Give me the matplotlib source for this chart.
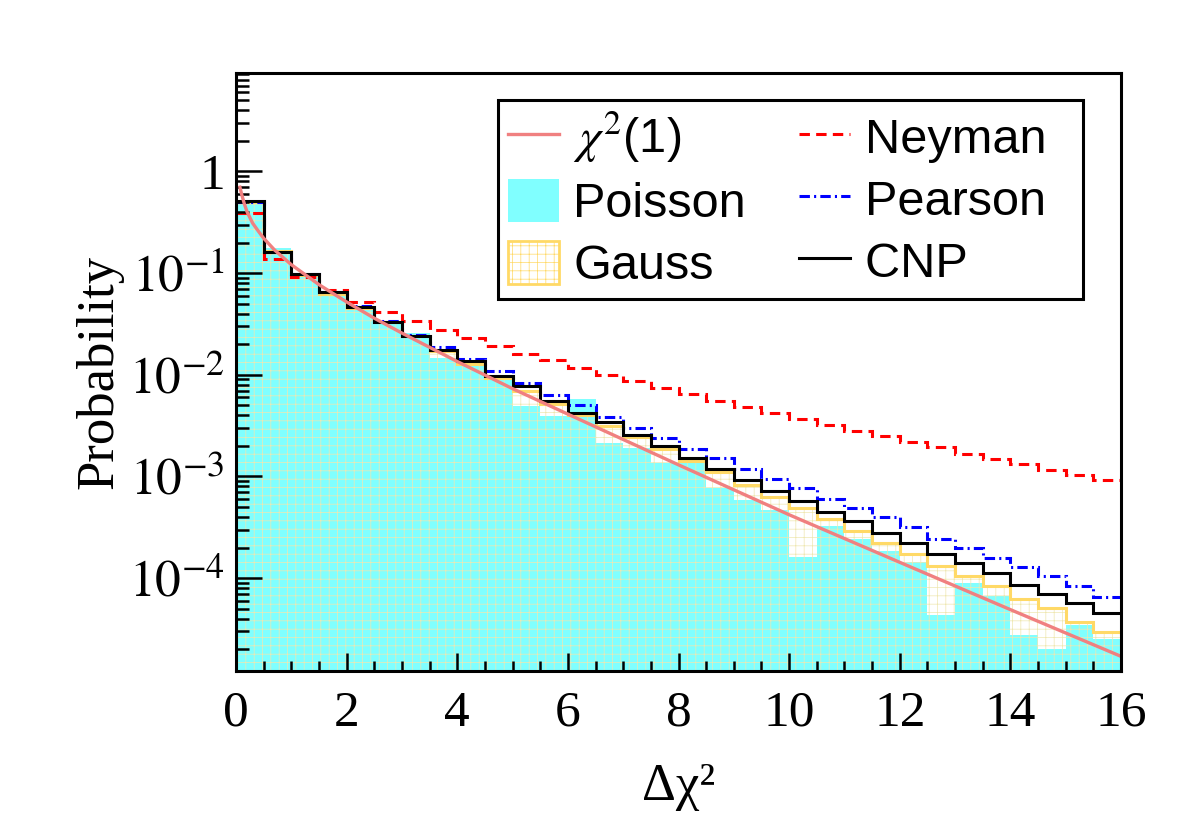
import numpy as np
import matplotlib
matplotlib.use("Agg")
import matplotlib.pyplot as plt
from matplotlib.patches import Patch
from matplotlib.lines import Line2D
from matplotlib.ticker import FixedLocator, FixedFormatter, LogLocator, NullFormatter, MultipleLocator

plt.rcParams['font.family'] = ['Liberation Serif', 'DejaVu Serif']
plt.rcParams['mathtext.fontset'] = 'stix'
plt.rcParams['lines.scale_dashes'] = False
plt.rcParams['hatch.linewidth'] = 0.5

# bin edges of delta chi2 (0.5 wide bins)
edges = np.arange(0, 16.01, 0.5)

# per-bin probabilities
poisson = [0.48, 0.175, 0.092, 0.06, 0.0443, 0.0322, 0.0258, 0.0146, 0.0126, 0.0091,
           0.0049, 0.00396, 0.00578, 0.00213, 0.0019, 0.00136, 0.00138, 0.00077, 0.00059, 0.000465,
           0.00016, 0.000323, 0.000243, 0.000184, 0.000143, 4.38e-5, 8.9e-5, 6.63e-5, 2.78e-5, 2.01e-5,
           3.48e-5, 2.52e-5]
gauss = [0.50, 0.165, 0.095, 0.062, 0.0455, 0.0330, 0.0240, 0.0170, 0.0128, 0.0093,
         0.0069, 0.0052, 0.0040, 0.00316, 0.00245, 0.00186, 0.00143, 0.0011, 0.00083, 0.000628,
         0.00049, 0.000382, 0.000289, 0.000222, 0.000173, 0.000131, 0.000104, 8.3e-5, 6.24e-5, 5.1e-5,
         3.67e-5, 2.93e-5]
neyman = [0.39, 0.138, 0.092, 0.0676, 0.052, 0.0414, 0.034, 0.0277, 0.023, 0.019,
          0.0161, 0.0139, 0.0117, 0.0100, 0.0086, 0.0074, 0.00645, 0.00556, 0.0048, 0.0042,
          0.00367, 0.00323, 0.00277, 0.0025, 0.00216, 0.00195, 0.00168, 0.00149, 0.00133, 0.00117,
          0.00104, 0.00093]
pearson = [0.50, 0.16, 0.097, 0.0646, 0.047, 0.034, 0.0249, 0.0188, 0.0143, 0.011,
           0.0083, 0.0063, 0.0050, 0.00385, 0.00297, 0.00239, 0.00186, 0.00152, 0.00118, 0.000944,
           0.00077, 0.000605, 0.00049, 0.0004, 0.000318, 0.000243, 0.000198, 0.000158, 0.000129, 0.000104,
           8.43e-5, 6.53e-5]
cnp = [0.507, 0.160, 0.098, 0.0646, 0.0465, 0.033, 0.0238, 0.0174, 0.01355, 0.00964,
       0.00769, 0.00547, 0.0042, 0.0034, 0.00258, 0.00198, 0.00152, 0.00119, 0.00092, 0.000725,
       0.000569, 0.000451, 0.000362, 0.000278, 0.000222, 0.000174, 0.000141, 0.000112, 8.63e-5, 7.04e-5,
       5.7e-5, 4.55e-5]

# chi2(1) reference curve
chi2_x = [0.07, 0.1, 0.15, 0.2, 0.3, 0.4, 0.5, 0.7, 1.0, 1.5, 2, 2.5, 3, 4, 5, 6, 8, 10, 12, 14, 16]
chi2_y = [0.70, 0.60, 0.48, 0.40, 0.31, 0.26, 0.22, 0.168, 0.121, 0.077, 0.052, 0.036, 0.0257,
          0.0135, 0.0073, 0.0041, 0.0013, 0.00042, 0.000143, 4.9e-5, 1.7e-5]

cyan = '#80FFFF'
gold = '#FFD966'
hatch_col = '#EFE7B0'
coral = '#F08080'
ney_dash = (0, (7.5, 4.5))
pear_dash = (0, (7.5, 3, 1.5, 3))

fig = plt.figure(figsize=(11.82, 8.21), dpi=100)
ax = fig.add_axes([0.1997, 0.1827, 0.7487, 0.7284])

ax.stairs(poisson, edges, baseline=1e-7, fill=True, facecolor=cyan, lw=0)
ax.stairs(gauss, edges, baseline=1e-7, fill=True, facecolor='none', edgecolor=hatch_col, hatch='++', lw=0)
ax.stairs(gauss, edges, baseline=None, color=gold, lw=2.2)
ax.stairs(neyman, edges, baseline=None, color='red', lw=2.2, linestyle=ney_dash)
ax.stairs(pearson, edges, baseline=None, color='blue', lw=2.2, linestyle=pear_dash)
ax.stairs(cnp, edges, baseline=None, color='black', lw=2.2)
ax.plot(chi2_x, chi2_y, color=coral, lw=2.4)

ax.set_yscale('log')
ax.set_xlim(0, 16)
ax.set_ylim(1.22e-5, 9.3)

ax.yaxis.set_major_locator(FixedLocator([1e-4, 1e-3, 1e-2, 1e-1, 1]))
ax.yaxis.set_major_formatter(FixedFormatter([r'$10^{-4}$', r'$10^{-3}$', r'$10^{-2}$', r'$10^{-1}$', '1']))
ax.yaxis.set_minor_locator(LogLocator(base=10, subs=range(2, 10), numticks=20))
ax.yaxis.set_minor_formatter(NullFormatter())
ax.xaxis.set_major_locator(MultipleLocator(2))
ax.xaxis.set_minor_locator(MultipleLocator(0.5))

ax.tick_params(which='both', direction='in', top=False, right=False, width=1.8, labelsize=37)
ax.tick_params(axis='y', which='major', length=19, pad=8)
ax.tick_params(axis='y', which='minor', length=9.5)
ax.tick_params(axis='x', which='major', length=13, pad=14)
ax.tick_params(axis='x', which='minor', length=7)
for s in ax.spines.values():
    s.set_linewidth(2.2)

ax.set_ylabel('Probability', fontsize=38, labelpad=4)
ax.set_xlabel('Δχ²', fontsize=38, labelpad=19)

handles = [
    Line2D([], [], color=coral, lw=2.4),
    Patch(facecolor=cyan, edgecolor='none'),
    Patch(facecolor='white', edgecolor=gold, hatch='++', lw=2),
    Line2D([], [], color='red', lw=2.2, linestyle=ney_dash),
    Line2D([], [], color='blue', lw=2.2, linestyle=pear_dash),
    Line2D([], [], color='black', lw=2.2),
]
labels = [r'$\chi^{2}$(1)', 'Poisson', 'Gauss', 'Neyman  ', 'Pearson  ', 'CNP  ']
leg = ax.legend(handles, labels, ncol=2, loc='upper left', bbox_to_anchor=(0.296, 0.955, 0.661, 0),
                mode='expand', prop={'family': 'Liberation Sans', 'size': 35}, frameon=True,
                fancybox=False, edgecolor='black', framealpha=1, borderpad=0.2, labelspacing=0.28,
                handlelength=1.05, handleheight=1.0, handletextpad=0.3, borderaxespad=0)
leg.get_frame().set_linewidth(2.2)

fig.savefig('out.png', dpi=100)
